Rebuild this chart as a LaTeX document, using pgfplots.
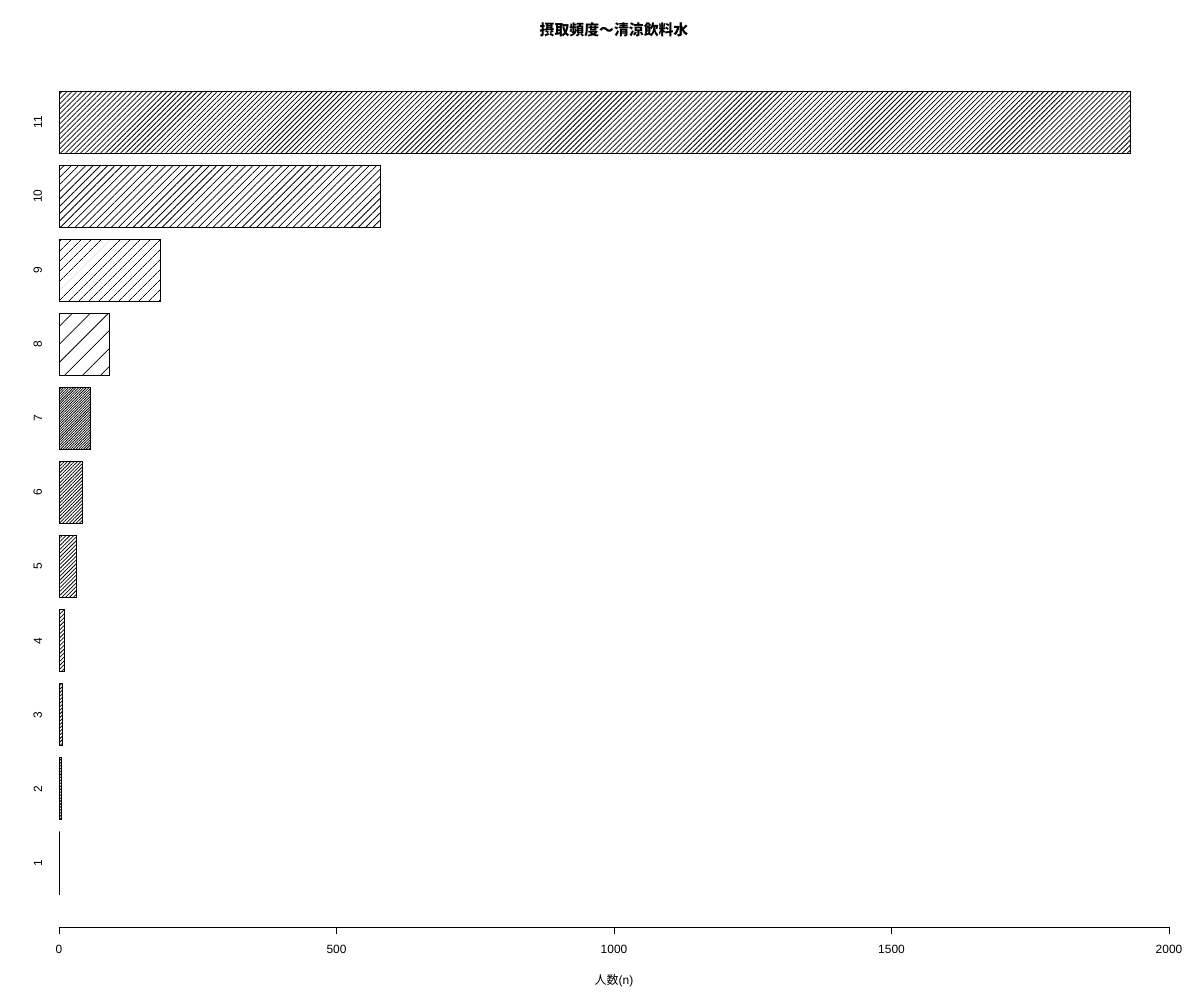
\documentclass[border=0pt]{standalone}
\usepackage{fontspec}
\setmainfont{Liberation Sans}
\newfontfamily\cjk{Noto Sans CJK JP}
\usepackage{pgfplots}
\pgfplotsset{compat=1.18}
\usetikzlibrary{patterns.meta}

\pgfplotsset{
  hb/.style={xbar, bar width=44.64pt, bar shift=0pt, draw=black, line width=0.6pt, pattern color=black,
    pattern={Lines[angle=45,distance=#1,line width=0.55pt]}},
}

\begin{document}
\begin{tikzpicture}[x=1pt,y=1pt]
\path[use as bounding box] (0,0) rectangle (864,720);
\begin{axis}[
  at={(42.48pt,52.56pt)}, anchor=south west,
  scale only axis, width=799.2pt, height=624.9pt,
  xmin=0, xmax=2000, ymin=0.136, ymax=11.85,
  clip=false,
  axis x line=bottom, axis y line=left,
  axis line style={-, line width=0.6pt},
  y axis line style={draw=none},
  xtick={0,500,1000,1500,2000},
  ytick={1,2,3,4,5,6,7,8,9,10,11},
  tick align=outside,
  major tick length=5pt,
  tick style={black, line width=0.6pt},
  ytick style={draw=none},
  /pgf/number format/assume math mode=true,
  /pgf/number format/1000 sep={},
  scaled x ticks=false,
  tick label style={font=\fontsize{8.6}{10}\selectfont},
  yticklabel style={xshift=-7pt, rotate=90, anchor=south, inner sep=0pt},
  xticklabel style={anchor=north, inner sep=0pt, yshift=-7.7pt},
]
\addplot[hb=2.55pt] coordinates {(1931,11)};
\addplot[hb=3.7pt] coordinates {(580,10)};
\addplot[hb=5.4pt] coordinates {(182,9)};
\addplot[hb=9.2pt] coordinates {(90,8)};
\addplot[hb=1.3pt] coordinates {(56,7)};
\addplot[hb=1.7pt] coordinates {(43,6)};
\addplot[hb=1.95pt] coordinates {(31,5)};
\addplot[hb=2.0pt] coordinates {(10,4)};
\addplot[hb=1.8pt] coordinates {(6,3)};
\addplot[hb=1.5pt] coordinates {(4,2)};
\addplot[hb=1.5pt] coordinates {(1,1)};
\end{axis}
\node[font=\cjk\bfseries\fontsize{10.7}{12}\selectfont] at (442.1,698.4) {摂取頻度～清涼飲料水};
\node[font=\fontsize{8.64}{10}\selectfont] at (442.1,13.7) {{\cjk 人数}(n)};
\end{tikzpicture}
\end{document}
